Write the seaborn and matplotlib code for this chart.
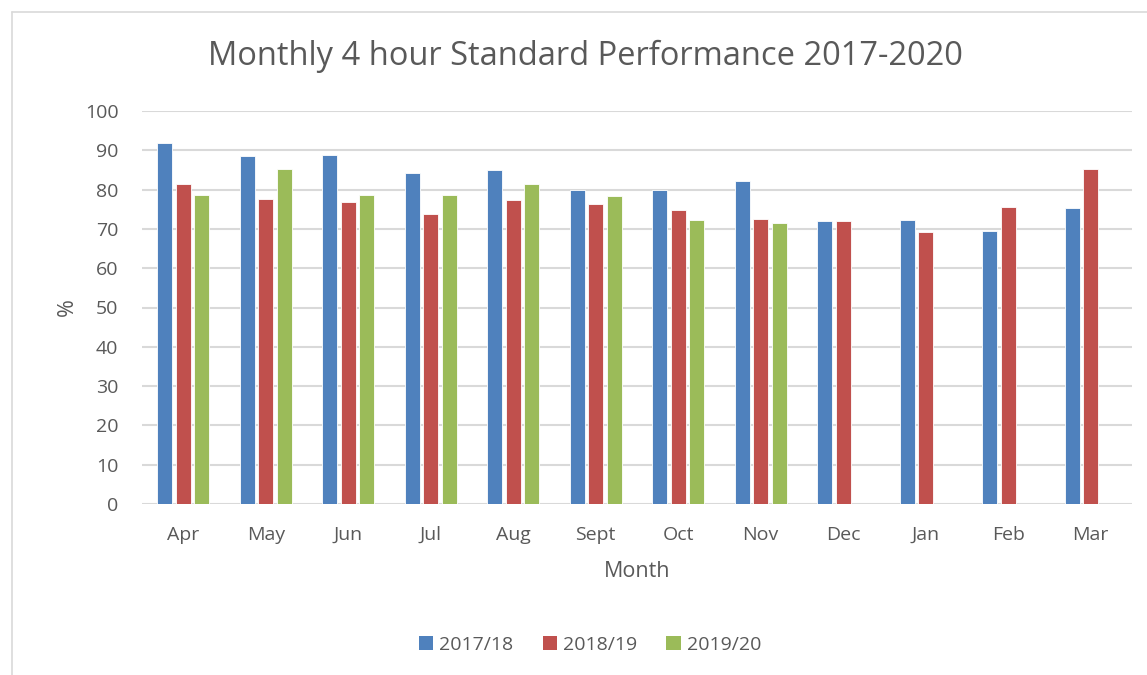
import numpy as np
import pandas as pd
import matplotlib
matplotlib.use("Agg")
import matplotlib.pyplot as plt
import seaborn as sns
from matplotlib.lines import Line2D
from matplotlib.patches import Patch

# Данные
months = ["Apr", "May", "Jun", "Jul", "Aug", "Sept", "Oct", "Nov", "Dec", "Jan", "Feb", "Mar"]
y2017_18 = [91.9, 88.6, 88.9, 84.1, 84.9, 80.0, 79.8, 82.3, 71.9, 72.2, 69.5, 75.4]
y2018_19 = [81.3, 77.7, 76.8, 73.9, 77.4, 76.4, 74.9, 72.6, 72.1, 69.3, 75.5, 85.3]
y2019_20 = [78.7, 85.2, 78.7, 78.5, 81.3, 78.3, 72.3, 71.5, np.nan, np.nan, np.nan, np.nan]
seasons = ["2017/18", "2018/19", "2019/20"]
colors = ["#4F81BD", "#C0504D", "#9BBB59"]

df = pd.DataFrame({
    "Month": months * 3,
    "Season": [s for s in seasons for _ in months],
    "Value": y2017_18 + y2018_19 + y2019_20,
})

sns.set_style("white")
plt.rcParams["font.family"] = ["Open Sans", "DejaVu Sans"]
text_col = "#595959"

fig = plt.figure(figsize=(11.47, 6.75), dpi=100)
ax = fig.add_axes([142 / 1147, 1 - 504 / 675, 990 / 1147, 393 / 675])

sns.barplot(data=df, x="Month", y="Value", hue="Season", order=months,
            hue_order=seasons, palette=colors, width=0.67, gap=0.2,
            edgecolor="white", linewidth=0.6, saturation=1, ax=ax, legend=False)

ax.set_ylim(0, 100)
ax.set_yticks(range(0, 101, 10))
ax.set_xlim(-0.5, len(months) - 0.5)
ax.yaxis.grid(True, color="#D9D9D9", linewidth=1.5)
ax.set_axisbelow(True)
for s in ax.spines.values():
    s.set_visible(False)
ax.tick_params(axis="both", length=0, labelsize=14, colors=text_col)
ax.tick_params(axis="x", pad=16)
ax.tick_params(axis="y", pad=17)
ax.set_xlabel("Month", fontsize=15.5, color=text_col, labelpad=12)
ax.set_ylabel("%", fontsize=15.5, color=text_col, labelpad=5)

fig.suptitle("Monthly 4 hour Standard Performance 2017-2020", x=585 / 1147, y=1 - 56 / 675,
             va="center", fontsize=23.5, color=text_col)

handles = [Patch(facecolor=c, edgecolor="none") for c in colors]
fig.legend(handles, seasons, loc="center", bbox_to_anchor=(590 / 1147, 1 - 645 / 675),
           ncol=3, frameon=False, fontsize=14, labelcolor=text_col,
           handlelength=0.75, handleheight=0.75, handletextpad=0.3, columnspacing=1.5)

# рамка области диаграммы
fig.add_artist(Line2D([12 / 1147, 12 / 1147], [0, 1 - 12 / 675], transform=fig.transFigure,
                      color="#D9D9D9", linewidth=1.2))
fig.add_artist(Line2D([12 / 1147, 1], [1 - 12 / 675, 1 - 12 / 675], transform=fig.transFigure,
                      color="#D9D9D9", linewidth=1.2))

fig.savefig("out.png", dpi=100, facecolor="white")
